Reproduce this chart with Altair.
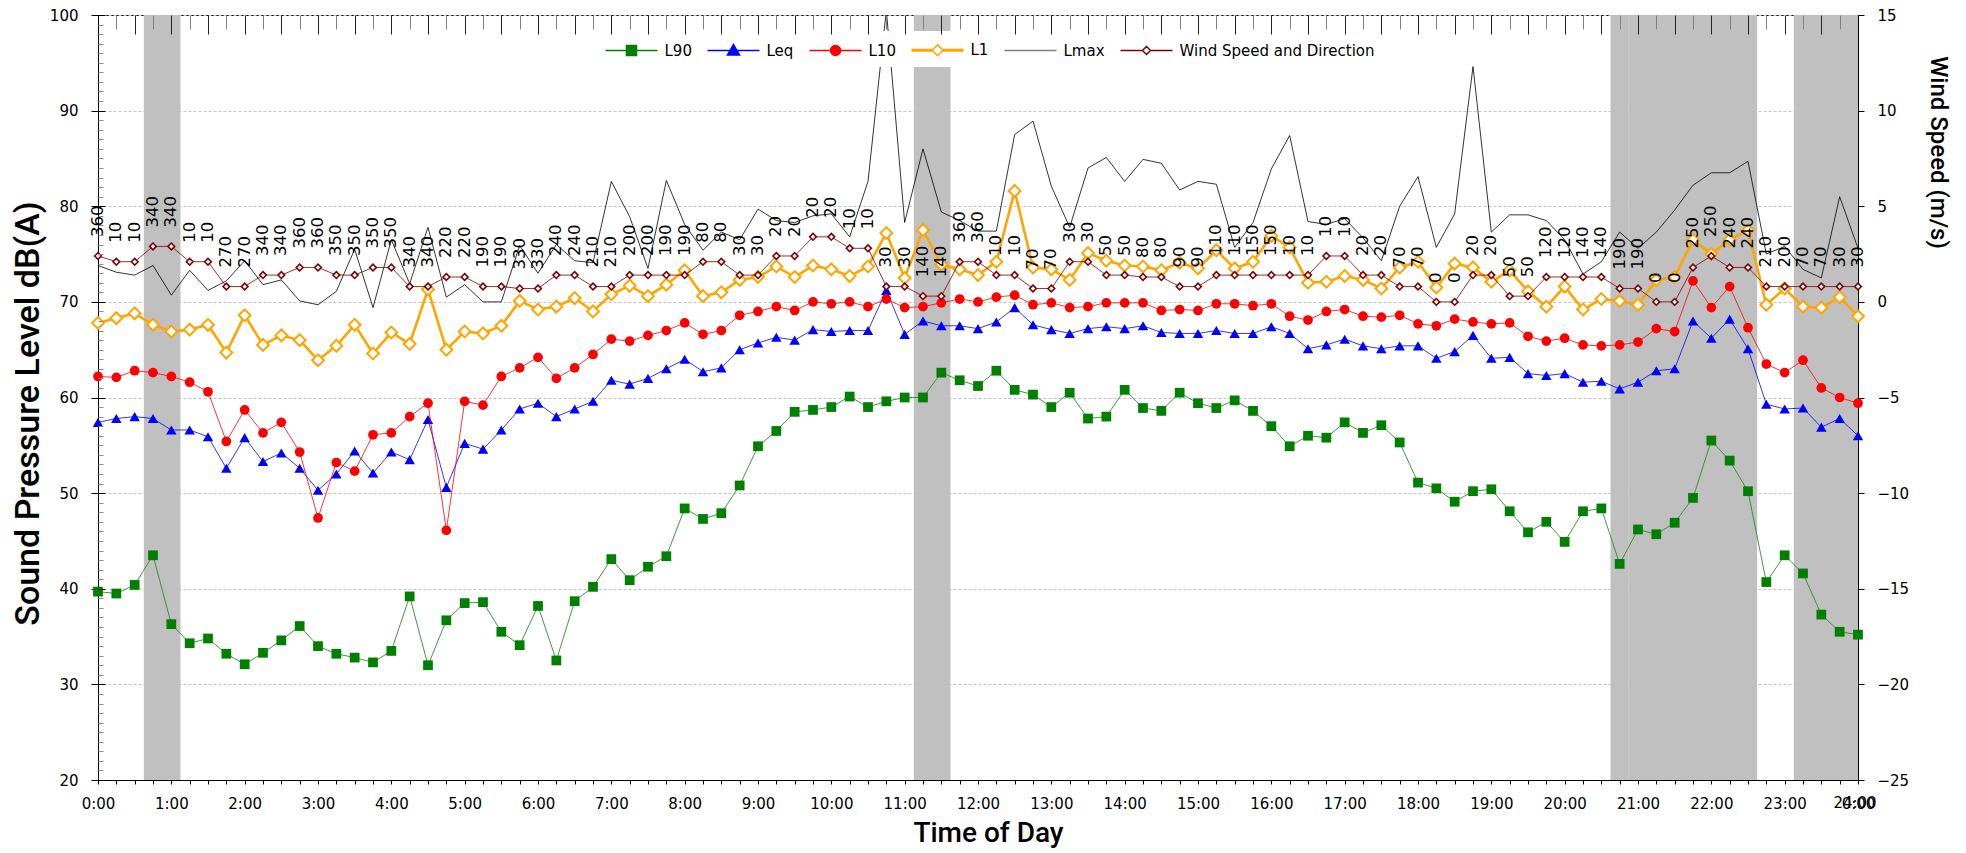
import altair as alt
import pandas as pd

# ---------------- data (15-minute intervals, 0:00 .. 24:00) ----------------
TIMES = [f"{m // 60}:{m % 60:02d}" for m in range(0, 24 * 60 + 1, 15)]

L90 = [39.7, 39.5, 40.4, 43.5, 36.3, 34.3, 34.8, 33.2, 32.1, 33.3,
       34.6, 36.1, 34.0, 33.2, 32.8, 32.3, 33.5, 39.2, 32.0, 36.7,
       38.5, 38.6, 35.5, 34.1, 38.2, 32.5, 38.7, 40.2, 43.1, 40.9,
       42.3, 43.4, 48.4, 47.3, 47.9, 50.8, 54.9, 56.5,
       58.5, 58.7, 59.0, 60.1, 59.0, 59.6, 60.0, 60.0, 62.6, 61.8,
       61.2, 62.8, 60.8, 60.3, 59.0, 60.5, 57.8, 58.0, 60.8,
       58.9, 58.6, 60.5, 59.4, 58.9, 59.7, 58.6, 57.0, 54.9, 56.0,
       55.8, 57.4, 56.3, 57.1, 55.3, 51.1, 50.5, 49.1,
       50.2, 50.4, 48.1, 45.9, 47.0, 44.9, 48.1, 48.4, 42.6, 46.2,
       45.7, 46.9, 49.5, 55.5, 53.4, 50.2, 40.7, 43.5, 41.6, 37.3, 35.5, 35.2]

LEQ = [57.4, 57.8, 58.0, 57.8, 56.6, 56.6, 55.9, 52.6, 55.8, 53.3,
       54.2, 52.6, 50.3, 52.0, 54.4, 52.1, 54.3, 53.5, 57.7, 50.6,
       55.2, 54.6, 56.6, 58.8, 59.4, 58.0, 58.8, 59.6, 61.8, 61.4,
       62.0, 63.0, 64.0, 62.7, 63.1, 65.0, 65.7, 66.3,
       66.0, 67.1, 66.9, 67.0, 67.0, 71.2, 66.6, 68.0, 67.5, 67.5,
       67.2, 67.9, 69.4, 67.6, 67.1, 66.7, 67.2, 67.4, 67.2,
       67.5, 66.8, 66.7, 66.7, 67.0, 66.7, 66.7, 67.4, 66.7, 65.1,
       65.5, 66.1, 65.4, 65.1, 65.4, 65.4, 64.1, 64.8,
       66.5, 64.1, 64.2, 62.5, 62.3, 62.5, 61.6, 61.7, 60.9, 61.6,
       62.8, 63.0, 68.0, 66.2, 68.2, 65.1, 59.3, 58.8, 58.9, 56.9, 57.8, 56.0]

L10 = [62.2, 62.1, 62.8, 62.6, 62.2, 61.6, 60.6, 55.4, 58.7, 56.3,
       57.4, 54.3, 47.4, 53.2, 52.3, 56.1, 56.3, 58.0, 59.4, 46.1,
       59.6, 59.2, 62.2, 63.1, 64.2, 62.0, 63.1, 64.5, 66.1, 65.9,
       66.5, 67.0, 67.8, 66.6, 67.0, 68.6, 69.0, 69.5,
       69.1, 70.0, 69.8, 70.0, 69.5, 70.3, 69.4, 69.5, 69.9, 70.3,
       70.0, 70.5, 70.7, 69.7, 69.9, 69.4, 69.5, 69.9, 69.9,
       69.9, 69.1, 69.2, 69.1, 69.8, 69.8, 69.6, 69.8, 68.5, 68.1,
       69.0, 69.2, 68.5, 68.4, 68.6, 67.7, 67.5, 68.2,
       67.9, 67.7, 67.8, 66.4, 65.9, 66.2, 65.5, 65.4, 65.5, 65.8,
       67.2, 66.9, 72.2, 69.4, 71.6, 67.3, 63.5, 62.6, 63.9, 61.0, 60.0, 59.4]

L1 = [67.8, 68.3, 68.8, 67.6, 66.9, 67.1, 67.6, 64.7, 68.6, 65.5,
      66.5, 66.0, 63.9, 65.4, 67.6, 64.6, 66.8, 65.6, 71.3, 65.0,
      66.9, 66.7, 67.5, 70.1, 69.2, 69.5, 70.4, 69.0, 70.8, 71.7,
      70.6, 71.8, 73.3, 70.6, 71.0, 72.3, 72.6, 73.7,
      72.6, 73.8, 73.4, 72.7, 73.7, 77.2, 72.5, 77.5, 73.9, 73.4,
      72.8, 74.2, 81.6, 73.6, 73.4, 72.3, 75.1, 74.3, 73.8,
      73.7, 73.3, 74.1, 73.5, 75.4, 73.5, 74.2, 76.9, 75.7, 72.0,
      72.1, 72.7, 72.3, 71.4, 73.6, 74.2, 71.5, 74.0,
      73.6, 72.1, 73.3, 71.1, 69.5, 71.6, 69.2, 70.3, 70.1, 69.7,
      72.3, 72.6, 76.5, 75.0, 76.5, 77.5, 69.7, 71.4, 69.5, 69.4, 70.5, 68.5]

LMAX = [73.8, 73.1, 72.8, 73.8, 70.7, 73.3, 71.2, 72.2, 74.3, 71.8,
        72.3, 70.1, 69.7, 71.1, 75.5, 69.4, 76.5, 71.9, 77.8, 70.5,
        71.8, 70.0, 70.0, 75.9, 73.0, 76.0, 74.3, 74.1, 82.6, 78.9,
        73.5, 82.7, 78.1, 75.4, 77.3, 76.5, 79.7, 78.5,
        78.3, 79.0, 79.2, 76.8, 82.6, 100.5, 78.3, 86.0, 79.4, 78.5,
        77.4, 77.4, 87.5, 88.9, 82.1, 77.8, 84.0, 85.1, 82.6,
        84.9, 84.5, 81.7, 82.6, 82.3, 75.7, 78.3, 83.9, 87.4, 78.4,
        78.1, 78.7, 76.7, 74.3, 80.0, 83.1, 75.7, 79.2,
        94.6, 77.3, 79.1, 79.1, 78.5, 76.5, 72.9, 74.2, 77.3, 75.6,
        77.3, 79.6, 82.2, 83.5, 83.5, 84.7, 75.0, 75.8, 73.4, 72.5, 81.0, 75.6]

WIND = [2.4, 2.1, 2.1, 2.9, 2.9, 2.1, 2.1, 0.8, 0.8, 1.4,
        1.4, 1.8, 1.8, 1.4, 1.4, 1.8, 1.8, 0.8, 0.8, 1.3,
        1.3, 0.8, 0.8, 0.7, 0.7, 1.4, 1.4, 0.8, 0.8, 1.4,
        1.4, 1.4, 1.4, 2.1, 2.1, 1.4, 1.4, 2.4,
        2.4, 3.4, 3.4, 2.8, 2.8, 0.8, 0.8, 0.3, 0.3, 2.1,
        2.1, 1.4, 1.4, 0.7, 0.7, 2.1, 2.1, 1.4, 1.4,
        1.3, 1.3, 0.8, 0.8, 1.4, 1.4, 1.4, 1.4, 1.4, 1.4,
        2.4, 2.4, 1.4, 1.4, 0.8, 0.8, 0.0, 0.0,
        1.4, 1.4, 0.3, 0.3, 1.3, 1.3, 1.3, 1.3, 0.7, 0.7,
        0.0, 0.0, 1.8, 2.4, 1.8, 1.8, 0.8, 0.8, 0.8, 0.8, 0.8, 0.8]

WIND_DIR = [360, 10, 10, 340, 340, 10, 10, 270, 270, 340,
            340, 360, 360, 350, 350, 350, 350, 340, 340, 220,
            220, 190, 190, 330, 330, 240, 240, 210, 210, 200,
            200, 190, 190, 80, 80, 30, 30, 20,
            20, 20, 20, 10, 10, 30, 30, 140, 140, 360,
            360, 10, 10, 70, 70, 30, 30, 50, 50,
            80, 80, 90, 90, 110, 110, 150, 150, 10, 10,
            10, 10, 20, 20, 70, 70, 0, 0,
            20, 20, 50, 50, 120, 120, 140, 140, 190, 190,
            0, 0, 250, 250, 240, 240, 210, 200, 70, 70, 30, 30]

# shaded periods (hours)
BAND_START = [0.625, 11.125, 20.625, 20.875, 23.125]
BAND_END = [1.125, 11.625, 20.875, 22.625, 24.0]

SERIES = ["L90", "Leq", "L10", "L1", "Lmax", "Wind Speed and Direction"]
Y_LEFT_TICKS = [20, 30, 40, 50, 60, 70, 80, 90, 100]
Y_RIGHT_TICKS = [-25, -20, -15, -10, -5, 0, 5, 10, 15]
EXTRA_LABEL_T = [24.0]
EXTRA_LABEL = ["24:00"]

# ---------------- styles ----------------
FONT = "DejaVu Sans"
TFONT = "Roboto, Liberation Sans, sans-serif"
TWEIGHT = 500
W, H = 1760, 765

LEG_FILL = ["#008000", "#0000FF", "#FF0000", "#FFFFFF", "transparent", "#FFFFFF"]
LEG_STROKE = ["#008000", "#0000FF", "#FF0000", "#FFA500", "#7f7f7f", "#800000"]
LEG_SHAPE = [
    "M-2.6,0H2.6M-0.5,-0.5H0.5V0.5H-0.5Z",
    "M-2.6,0H2.6M0,-0.6L0.6,0.45H-0.6Z",
    "M-2.6,0H2.6M-0.5,0A0.5,0.5,0,1,0,0.5,0A0.5,0.5,0,1,0,-0.5,0Z",
    "M-2.6,-0.07H-0.55M-2.6,0.07H-0.55M0.55,-0.07H2.6M0.55,0.07H2.6M0,-0.55L0.55,0L0,0.55L-0.55,0Z",
    "M-2.6,0H2.6",
    "M-2.6,0H-0.4M0.4,0H2.6M0,-0.4L0.4,0L0,0.4L-0.4,0Z",
]

# ---------------- frames ----------------
HOURS = [int(s.split(":")[0]) + int(s.split(":")[1]) / 60 for s in TIMES]
df = pd.DataFrame({
    "t": HOURS, "L90": L90, "Leq": LEQ, "L10": L10, "L1": L1, "Lmax": LMAX,
    "wind": WIND, "dir": [str(d) for d in WIND_DIR],
})
bands_df = pd.DataFrame({"start": BAND_START, "end": BAND_END})
extra_df = pd.DataFrame({"t": EXTRA_LABEL_T, "lab": EXTRA_LABEL})
legend_df = pd.DataFrame({"series": SERIES})


def xs():
    return alt.Scale(domain=[0, 24], nice=False, zero=False)


def ysl():
    return alt.Scale(domain=[20, 100], nice=False, zero=False)


def ysr():
    return alt.Scale(domain=[-25, 15], nice=False, zero=False)


x_bottom = alt.Axis(
    orient="bottom", values=HOURS,
    labelExpr="datum.value % 1 == 0 ? (datum.value % 24) + ':00' : ''",
    labelFont=FONT, labelFontSize=15, labelColor="black", labelPadding=12,
    labelFlush=False, labelOverlap=False, tickSize=4, tickColor="black",
    domainColor="black", grid=False,
    title="Time of Day", titleFont=TFONT, titleFontSize=28, titleFontWeight=TWEIGHT,
    titleColor="black", titleX=890, titleY=53, titleBaseline="middle")

y_left = alt.Axis(
    orient="left", values=Y_LEFT_TICKS, labelFont=FONT, labelFontSize=15,
    labelColor="black", labelPadding=13, labelFlush=False, tickSize=7,
    tickColor="black", domainColor="black", grid=True, gridColor="#c4c4c4",
    gridDash=[3, 2], gridWidth=1,
    title="Sound Pressure Level dB(A)", titleFont=TFONT, titleFontSize=34,
    titleFontWeight=TWEIGHT, titleColor="black", titleAngle=270, titleX=-70,
    titleY=398, titleAlign="center", titleBaseline="middle")

y_right = alt.Axis(
    orient="right", values=Y_RIGHT_TICKS, labelFont=FONT, labelFontSize=15,
    labelColor="black", labelPadding=13, labelFlush=False, tickSize=6,
    tickColor="black", domainColor="black", grid=False,
    title="Wind Speed (m/s)", titleFont=TFONT, titleFontSize=24,
    titleFontWeight=TWEIGHT, titleColor="black", titleAngle=90, titleX=79,
    titleY=137, titleAlign="center", titleBaseline="middle")

y_inner = alt.Axis(
    orient="left", offset=-7, values=list(range(20, 101)), labels=False,
    domain=False, grid=False, ticks=True, tickSize=7, zindex=1, title=None,
    tickColor={"condition": {"test": "datum.value % 10 === 0", "value": "black"}, "value": "#8c8c8c"},
    tickDash={"condition": {"test": "datum.value % 10 === 0", "value": [10, 1]}, "value": [0, 2, 6, 1]})

x_top = alt.Axis(
    orient="top", offset=-19, values=HOURS[1:-1], labels=False, domain=False,
    grid=False, ticks=True, tickSize=19, zindex=1, title=None,
    tickColor={"condition": {"test": "datum.value % 0.5 === 0", "value": "#222222"}, "value": "#808080"},
    tickDash={"condition": {"test": "datum.value % 0.5 === 0", "value": [20, 1]}, "value": [0, 5, 15, 1]})

LEGEND = alt.Legend(
    title=None, orient="none", legendX=499, legendY=16, direction="horizontal",
    symbolSize=400, symbolOffset=15.5, symbolStrokeWidth=1.5, labelOffset=22,
    columnPadding=12, padding=8, fillColor="white", labelFont=FONT,
    labelFontSize=15, labelColor="black", labelLimit=400, symbolOpacity=1)


def xenc(axis=None):
    return alt.X("t:Q", scale=xs(), axis=axis)


def yl(col, axis=None):
    return alt.Y(f"{col}:Q", scale=ysl(), axis=axis)


def yr(axis=None):
    return alt.Y("wind:Q", scale=ysr(), axis=axis)


base = alt.Chart(df)

bands = alt.Chart(bands_df).mark_rect(color="#c0c0c0").encode(
    x=alt.X("start:Q", scale=xs(), axis=x_bottom), x2="end:Q")

l90_line = base.mark_line(color="#2e8b2e", strokeWidth=0.9).encode(x=xenc(), y=yl("L90", y_left))
l90_pts = base.mark_point(shape="square", filled=True, color="#008000", size=95, opacity=1).encode(x=xenc(), y=yl("L90"))
leq_line = base.mark_line(color="#0000FF", strokeWidth=0.8).encode(x=xenc(), y=yl("Leq"))
leq_pts = base.mark_point(shape="triangle-up", filled=True, color="#0000FF", size=110, opacity=1).encode(x=xenc(), y=yl("Leq"))
l10_line = base.mark_line(color="#FF0000", strokeWidth=0.8).encode(x=xenc(), y=yl("L10"))
l10_pts = base.mark_point(shape="circle", filled=True, color="#FF0000", size=95, opacity=1).encode(x=xenc(), y=yl("L10"))
l1_line = base.mark_line(color="#FFA500", strokeWidth=2.6).encode(x=xenc(), y=yl("L1"))
l1_pts = base.mark_point(shape="diamond", filled=True, fill="white", stroke="#FFA500", strokeWidth=2,
                         size=140, opacity=1).encode(x=xenc(), y=yl("L1"))
lmax_line = base.mark_line(color="#000000", strokeWidth=0.8, clip=True).encode(x=xenc(), y=yl("Lmax"))

wind_line = base.mark_line(color="#800000", strokeWidth=0.8).encode(x=xenc(), y=yr(y_right))
wind_pts = base.mark_point(shape="diamond", filled=True, fill="white", stroke="#800000",
                           strokeWidth=1.6, size=45, opacity=1).encode(x=xenc(), y=yr())
wind_txt = base.mark_text(angle=270, align="left", baseline="middle", dx=19, font=FONT,
                          fontSize=16.5, color="black").encode(x=xenc(), y=yr(), text="dir:N")

ticks_layer = base.mark_point(opacity=0).encode(x=xenc(x_top), y=yl("L90", y_inner))
legend_layer = alt.Chart(legend_df).mark_point(opacity=1).encode(
    fill=alt.Fill("series:N", scale=alt.Scale(domain=SERIES, range=LEG_FILL), legend=LEGEND),
    stroke=alt.Stroke("series:N", scale=alt.Scale(domain=SERIES, range=LEG_STROKE), legend=LEGEND),
    shape=alt.Shape("series:N", scale=alt.Scale(domain=SERIES, range=LEG_SHAPE), legend=LEGEND),
).transform_filter("false")
extra_lab = alt.Chart(extra_df).mark_text(align="center", baseline="top", dx=-3, font=FONT,
                                          fontSize=15, color="black").encode(
    x=alt.X("t:Q", scale=xs(), axis=None), y=alt.value(H + 16), text="lab:N")

chart = alt.layer(
    bands, l90_line, l90_pts, leq_line, leq_pts, l10_line, l10_pts, l1_line, l1_pts,
    lmax_line, wind_line, wind_pts, wind_txt, ticks_layer, legend_layer, extra_lab,
).resolve_scale(y="independent").resolve_axis(x="independent", y="independent").properties(
    width=W, height=H,
    autosize=alt.AutoSizeParams(type="none"),
    padding={"left": 90, "top": 7, "right": 100, "bottom": 70},
).configure_view(stroke="black", strokeWidth=1)

chart.save("out.html", embed_options={"renderer": "svg", "actions": False})
